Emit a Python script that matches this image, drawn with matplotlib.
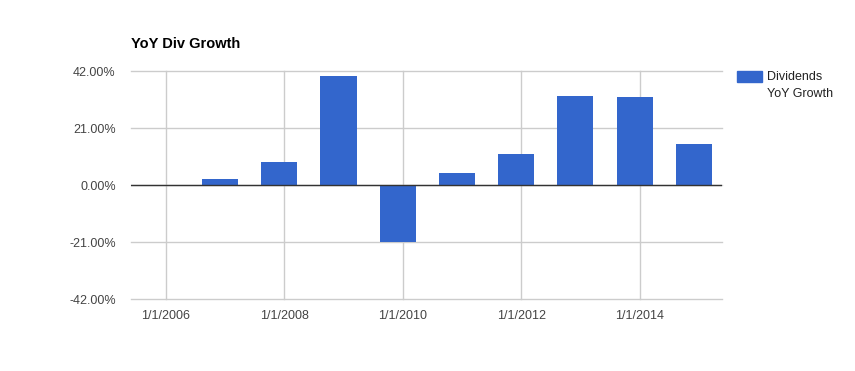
import matplotlib.pyplot as plt
import matplotlib.patches as mpatches
import numpy as np

plt.rcParams['font.family'] = ['Liberation Sans', 'DejaVu Sans']

# Year-over-year dividend growth (%)
years = np.array([2006, 2007, 2008, 2009, 2010, 2011, 2012, 2013, 2014, 2015])
growth = np.array([0.0, 2.3, 8.5, 40.2, -21.0, 4.4, 11.4, 32.8, 32.4, 15.1])
y_ticks = [-42, -21, 0, 21, 42]
x_ticks = [2006, 2008, 2010, 2012, 2014]
x_labels = ['1/1/2006', '1/1/2008', '1/1/2010', '1/1/2012', '1/1/2014']
bar_color = '#3366cc'

fig = plt.figure(figsize=(8.55, 3.71), dpi=100)
ax = fig.add_axes([0.1532, 0.194, 0.6912, 0.6146])

# bars sit a little before Jan 1 of each year
ax.bar(years - 0.085, growth, width=0.61, color=bar_color, zorder=3)

ax.set_xlim(2005.41, 2015.39)
ax.set_ylim(-42, 42)
ax.set_yticks(y_ticks)
ax.set_yticklabels([f'{v:.2f}%' for v in y_ticks])
ax.set_xticks(x_ticks)
ax.set_xticklabels(x_labels)

ax.grid(True, color='#cccccc', linewidth=1, zorder=0)
for gl in ax.get_ygridlines() + ax.get_xgridlines():
    gl.set_clip_on(False)
ax.axhline(0, color='#333333', linewidth=1, zorder=4)
for s in ax.spines.values():
    s.set_visible(False)
ax.tick_params(length=0, labelsize=9, colors='#444444', pad=8)
ax.tick_params(axis='y', pad=11)

fig.text(131 / 855, 1 - 44 / 371, 'YoY Div Growth', fontsize=10.5,
         fontweight='bold', color='#000000', va='center', ha='left')

# legend drawn by hand so the swatch lines up with the first text line
W, H = 855, 371
fig.patches.append(mpatches.Rectangle((737 / W, 1 - 82 / H), 25 / W, 11 / H,
                                      transform=fig.transFigure,
                                      color=bar_color))
fig.text(767 / W, 1 - 77 / H, 'Dividends', fontsize=9, color='#222222',
         va='center', ha='left')
fig.text(767 / W, 1 - 94 / H, 'YoY Growth', fontsize=9, color='#222222',
         va='center', ha='left')

plt.savefig('out.png', dpi=100)
